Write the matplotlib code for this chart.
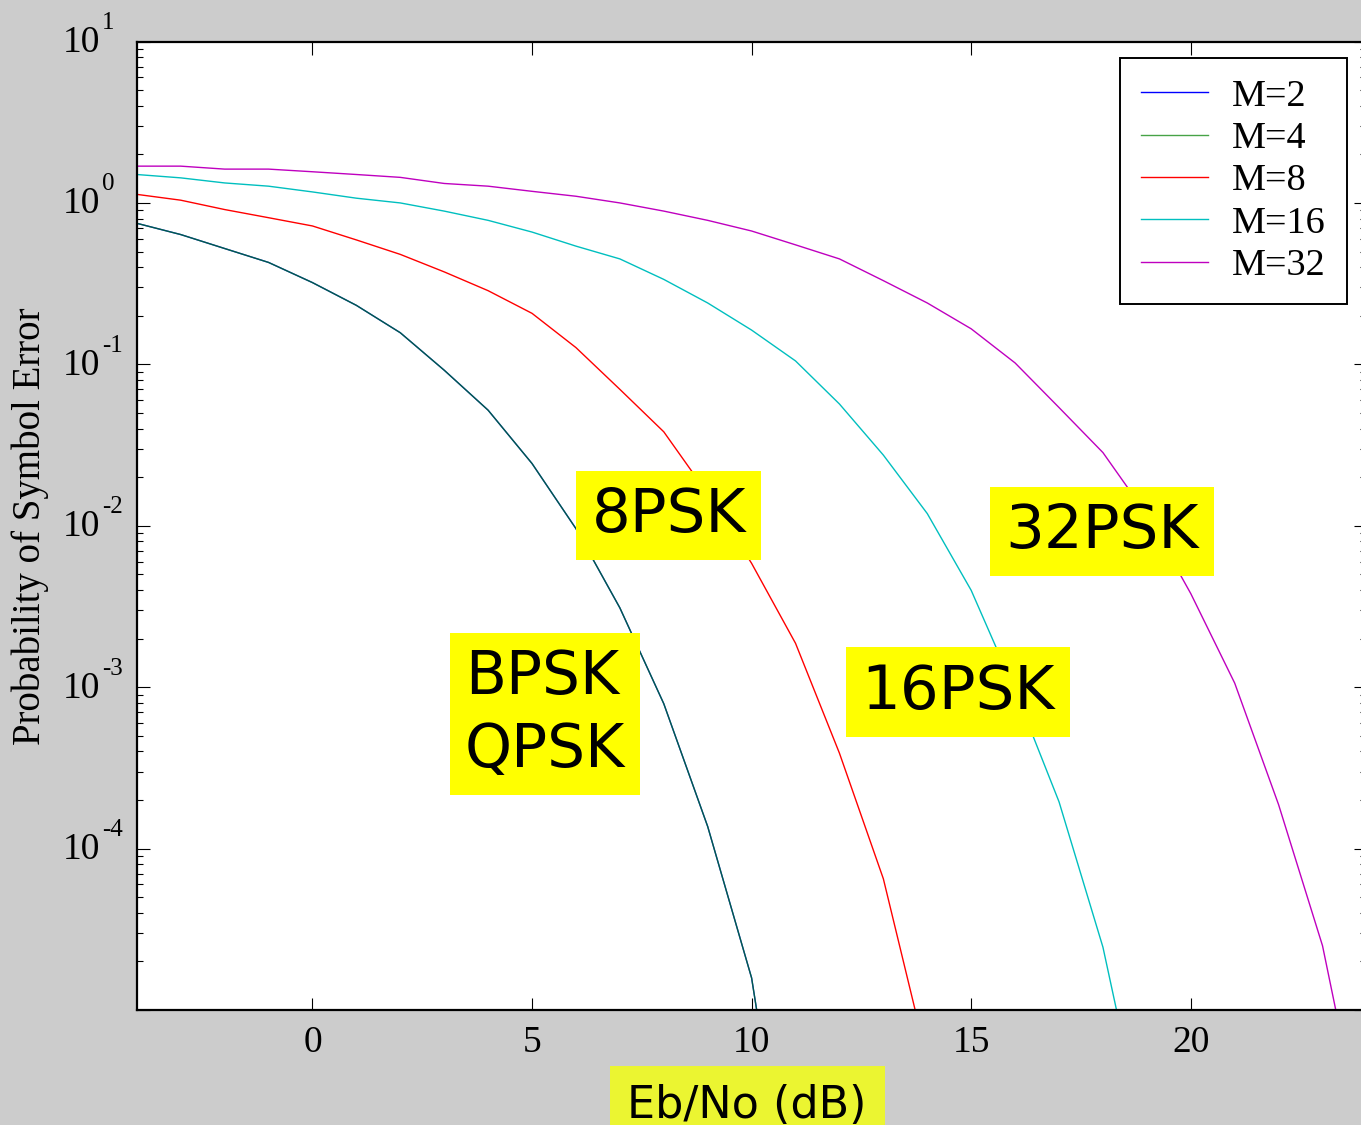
import matplotlib
matplotlib.use('Agg')
import matplotlib.pyplot as plt
import matplotlib.transforms as mtransforms
from matplotlib.ticker import FixedLocator, NullFormatter
import numpy as np

plt.rcParams['font.family'] = ['Liberation Serif', 'DejaVu Serif']

# Eb/No in dB, one point per dB
ebno_db = list(range(-4, 25))

# symbol error probabilities
pe_m2 = [0.748, 0.637, 0.522, 0.428, 0.321, 0.232, 0.157, 0.092, 0.052, 0.0243,
         9.6e-3, 3.1e-3, 7.9e-4, 1.37e-4, 1.58e-5, 3.0e-7]
pe_m4 = [0.748, 0.637, 0.522, 0.428, 0.321, 0.232, 0.157, 0.092, 0.052, 0.0243,
         9.6e-3, 3.1e-3, 7.9e-4, 1.37e-4, 1.58e-5, 3.0e-7]
pe_m8 = [1.13, 1.04, 0.91, 0.81, 0.72, 0.59, 0.48, 0.374, 0.286, 0.207, 0.127,
         0.070, 0.0382, 0.0158, 5.85e-3, 1.87e-3, 3.9e-4, 6.5e-5, 4.9e-6]
pe_m16 = [1.50, 1.43, 1.33, 1.27, 1.17, 1.07, 1.00, 0.89, 0.78, 0.66, 0.54, 0.45,
          0.336, 0.24, 0.163, 0.105, 0.0568, 0.0274, 0.0119, 3.98e-3, 9.5e-4,
          1.95e-4, 2.45e-5, 1.35e-6]
pe_m32 = [1.69, 1.69, 1.62, 1.62, 1.56, 1.50, 1.44, 1.32, 1.27, 1.18, 1.10, 1.00,
          0.89, 0.78, 0.67, 0.55, 0.45, 0.33, 0.24, 0.166, 0.102, 0.054, 0.0284,
          0.0117, 3.8e-3, 1.06e-3, 1.87e-4, 2.5e-5, 1.2e-6]

labels = ['M=2', 'M=4', 'M=8', 'M=16', 'M=32']
colors = ['#0000ff', '#008000', '#ff0000', '#00bfbf', '#bf00bf']

ytick_vals = [1e-5, 1e-4, 1e-3, 1e-2, 1e-1, 1e0, 1e1]
ytick_exps = ['', '-4', '-3', '-2', '-1', '0', '1']
xtick_vals = [0, 5, 10, 15, 20]

fig = plt.figure(figsize=(13.61, 11.25), dpi=100, facecolor='#cccccc')
ax = fig.add_axes([0.1005, 0.1022, 0.9035, 0.8609])
ax.set_facecolor('white')

series = [pe_m2, pe_m4, pe_m8, pe_m16, pe_m32]
for pe, lab, col in zip(series, labels, colors):
    a = 0.72 if lab == 'M=4' else 1.0
    ax.plot(ebno_db[:len(pe)], pe, color=col, lw=1.0, alpha=a, label=lab)

ax.set_yscale('log')
ax.set_xlim(-4, 24)
ax.set_ylim(1e-5, 10)

ax.xaxis.set_major_locator(FixedLocator(xtick_vals))
ax.yaxis.set_major_locator(FixedLocator(ytick_vals))
ax.yaxis.set_major_formatter(NullFormatter())
minors = [m * 10.0 ** e for e in range(-5, 1) for m in range(2, 10)]
ax.yaxis.set_minor_locator(FixedLocator(minors))
ax.yaxis.set_minor_formatter(NullFormatter())
ax.xaxis.set_minor_locator(FixedLocator([]))

ax.tick_params(axis='both', which='major', direction='in', length=9, width=0.8,
               top=True, right=True, labelsize=27)
ax.tick_params(axis='x', which='major', pad=11)
ax.tick_params(axis='y', which='minor', direction='in', length=4.5, width=0.8,
               left=True, right=True)
for s in ax.spines.values():
    s.set_linewidth(1.6)

# y tick labels: "10" with a large raised exponent, like the original
ytrans = mtransforms.blended_transform_factory(ax.transAxes, ax.transData)
base_tr = mtransforms.offset_copy(ytrans, fig=fig, x=-37, y=-10.5, units='dots')
exp_tr = mtransforms.offset_copy(ytrans, fig=fig, x=-35, y=12.5, units='dots')
for v, e in zip(ytick_vals, ytick_exps):
    if not e:
        continue
    ax.text(0, v, '10', transform=base_tr, ha='right', va='baseline', fontsize=27,
            clip_on=False)
    ax.text(0, v, e, transform=exp_tr, ha='left', va='baseline', fontsize=18,
            clip_on=False)

ax.set_ylabel('Probability of Symbol Error', fontsize=28, va='center')
ax.yaxis.set_label_coords(-0.0868, 0.5)

leg = ax.legend(loc='upper right', bbox_to_anchor=(0.984, 0.983), borderaxespad=0,
                fontsize=27.5, handlelength=1.75, handletextpad=0.62,
                labelspacing=0.2, borderpad=0.55, fancybox=False, framealpha=1)
leg.get_frame().set_edgecolor('black')
leg.get_frame().set_linewidth(1.4)

box = dict(boxstyle='square,pad=0.25', facecolor='#ffff00', edgecolor='none')
sans = 'DejaVu Sans'
ax.text(0.4325, 0.5106, '8PSK', transform=ax.transAxes, ha='center', va='center',
        fontsize=44, family=sans, bbox=box)
ax.text(0.3321, 0.3056, 'BPSK\nQPSK', transform=ax.transAxes, ha='center', va='center',
        fontsize=43, family=sans, multialignment='left', linespacing=1.3, bbox=box)
ax.text(0.6679, 0.3283, '16PSK', transform=ax.transAxes, ha='center', va='center',
        fontsize=44, family=sans, bbox=box)
ax.text(0.7851, 0.4941, '32PSK', transform=ax.transAxes, ha='center', va='center',
        fontsize=44, family=sans, bbox=box)

fig.text(0.5489, 0.0062, 'Eb/No (dB)', ha='center', va='baseline', fontsize=32,
         family=sans,
         bbox=dict(boxstyle='square,pad=0.4', facecolor='#ebf531', edgecolor='none'))

fig.savefig('out.png', dpi=100, facecolor=fig.get_facecolor())
